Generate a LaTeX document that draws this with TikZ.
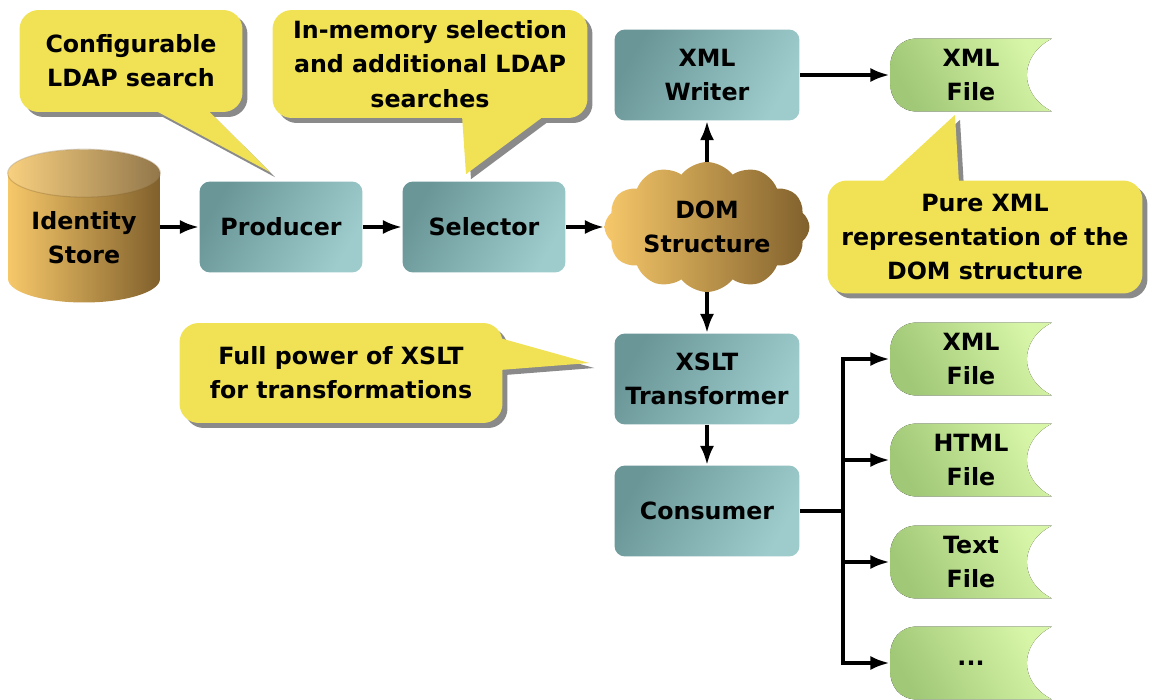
\documentclass[tikz,border=0pt]{standalone}
\usepackage{fontspec}
\setmainfont{DejaVu Sans}
\usepackage{tikz}
\usetikzlibrary{calc, arrows.meta, shapes.geometric, shapes.symbols, shadows, backgrounds}
\definecolor{notefill}  {RGB}{240,226,84}
\definecolor{noteshade} {RGB}{138,138,138}
\definecolor{boxdark}   {RGB}{106,150,152}
\definecolor{boxlight}  {RGB}{158,204,204}
\definecolor{storelight}{RGB}{247,200,106}
\definecolor{storedark} {RGB}{128,96,44}
\definecolor{filedark}  {RGB}{160,200,118}
\definecolor{filelight} {RGB}{216,246,168}
\newcommand\labelfont{\fontsize{13.5}{19.5}\selectfont\bfseries}
% tail of a note: two base points on the note, then the tip
\newcommand\notetail[3]{%
  \begin{scope}[on background layer]
    \fill[noteshade] ([shift={(5,5)}]#1) -- ([shift={(5,5)}]#3)
      -- ([shift={(5,5)}]#2) -- cycle;
  \end{scope}
  \fill[notefill] (#1) -- (#3) -- (#2) -- cycle;}
\tikzset{
  stepbox/.style={rectangle, rounded corners=6pt, minimum width=#1,
    minimum height=1.82cm, inner sep=1pt, top color=boxdark,
    bottom color=boxlight, shading angle=60, font=\labelfont, align=center},
  note/.style={rectangle, rounded corners=11pt, fill=notefill, inner sep=0pt,
    font=\labelfont, align=center,
    drop shadow={shadow xshift=0.1cm, shadow yshift=-0.1cm,
      fill=noteshade, opacity=1}},
  filedoc/.style={rectangle, minimum width=3.24cm, minimum height=1.46cm,
    inner sep=0pt, font=\labelfont, align=center,
    path picture={
      \coordinate (nw) at (path picture bounding box.north west);
      \coordinate (ne) at (path picture bounding box.north east);
      \coordinate (sw) at (path picture bounding box.south west);
      \coordinate (se) at (path picture bounding box.south east);
      \fill[top color=filelight, bottom color=filedark, shading angle=-60]
        ($(nw)+(0.55cm,0cm)$) -- (ne)
          .. controls ($(ne)+(-0.67cm,-0.35cm)$) and ($(se)+(-0.67cm,0.35cm)$) .. (se)
        -- ($(sw)+(0.55cm,0cm)$)
          .. controls ($(sw)+(0.2cm,0cm)$) and ($(sw)+(0cm,0.25cm)$) .. ($(sw)+(0cm,0.6cm)$)
        -- ($(nw)+(0cm,-0.6cm)$)
          .. controls ($(nw)+(0cm,-0.25cm)$) and ($(nw)+(0.2cm,0cm)$) .. cycle;
    }},
}
\begin{document}
\begin{tikzpicture}[x=0.02cm, y=-0.02cm,
  flow/.style={line width=2.1pt, -{Latex[length=11pt, width=8pt]}},
  wire/.style={line width=2.1pt},
  store/.style={cylinder, shape border rotate=90, aspect=0.45,
    minimum width=3.04cm, minimum height=3.06cm, inner sep=0pt,
    left color=storelight, right color=storedark, font=\labelfont, align=center},
  dom/.style={cloud, cloud puffs=12, cloud puff arc=105, cloud ignores aspect,
    minimum width=4.1cm, minimum height=2.6cm, inner sep=0pt,
    left color=storelight, right color=storedark, font=\labelfont, align=center}]
\useasboundingbox (0,0) rectangle (1154,700);
% main chain
\node[store] (store) at (84,238) {Identity\\Store};
\node[stepbox=3.26cm] (producer) at (281,227) {Producer};
\node[stepbox=3.26cm] (selector) at (484,227) {Selector};
\node[dom] (dom) at (707,227) {DOM\\Structure};
\node[stepbox=3.7cm] (writer) at (707,75) {XML\\Writer};
\node[stepbox=3.7cm] (xslt) at (707,379) {XSLT\\Transformer};
\node[stepbox=3.7cm] (consumer) at (707,511) {Consumer};
% top face of the store
\path let \p1=(store.before top), \p2=(store.after top), \p3=(store.top) in
  [fill=white, fill opacity=0.15, draw=storedark, draw opacity=0.3, line width=0.6pt]
  ($(\p1)!0.5!(\p2)$) ellipse [x radius={abs(\x2-\x1)/2}, y radius={abs(\y3-\y1)}];
% outputs
\node[filedoc] (xmlfile) at (971,75) {XML\\File};
\node[filedoc] (xmlout) at (971,359) {XML\\File};
\node[filedoc] (htmlout) at (971,460) {HTML\\File};
\node[filedoc] (textout) at (971,562) {Text\\File};
\node[filedoc] (moreout) at (971,663) {...};
% arrows
\draw[flow] (store.east |- producer) -- (producer);
\draw[flow] (producer) -- (selector);
\draw[flow] (selector) -- (dom);
\draw[flow] (dom) -- (writer);
\draw[flow] (writer) -- (xmlfile);
\draw[flow] (dom) -- (xslt);
\draw[flow] (xslt) -- (consumer);
\coordinate (fork) at ($(consumer.east)+(43,0)$);
\draw[wire] (consumer.east) -- (fork);
\foreach \f in {xmlout, htmlout, textout, moreout}
  \draw[flow] (fork) |- (\f.west);
% notes
\node[note, minimum width=4.46cm, minimum height=2.04cm] (cfgnote) at (131,61)
  {Configurable\\LDAP search};
\node[note, minimum width=6.3cm, minimum height=2.16cm] (selnote) at (430,64)
  {In-memory selection\\and additional LDAP\\searches};
\node[note, minimum width=6.46cm, minimum height=2cm] (xsltnote) at (341,373)
  {Full power of XSLT\\for transformations};
\node[note, minimum width=6.3cm, minimum height=2.26cm] (purenote) at (985,237)
  {Pure XML\\representation of the\\DOM structure};
\coordinate (cfgA) at ($(cfgnote.south)+(22,-3)$);
\coordinate (cfgB) at ($(cfgnote.south)+(76,-3)$);
\coordinate (cfgtip) at ($(producer.north)+(-11,-9)$);
\coordinate (selA) at ($(selnote.south)+(32,-3)$);
\coordinate (selB) at ($(selnote.south)+(115,-3)$);
\coordinate (seltip) at ($(selector.north)+(-18,-7)$);
\coordinate (xsltA) at ($(xsltnote.east)+(-3,-35)$);
\coordinate (xsltB) at ($(xsltnote.east)+(-3,-3)$);
\coordinate (xslttip) at ($(xslt.west)+(-25,-16)$);
\coordinate (pureA) at ($(purenote.north)+(-104,3)$);
\coordinate (pureB) at ($(purenote.north)+(-26,3)$);
\coordinate (puretip) at ($(xmlfile.south)+(-16,3)$);
\notetail{cfgA}{cfgB}{cfgtip}
\notetail{selA}{selB}{seltip}
\notetail{xsltA}{xsltB}{xslttip}
\notetail{pureA}{pureB}{puretip}
\end{tikzpicture}
\end{document}
